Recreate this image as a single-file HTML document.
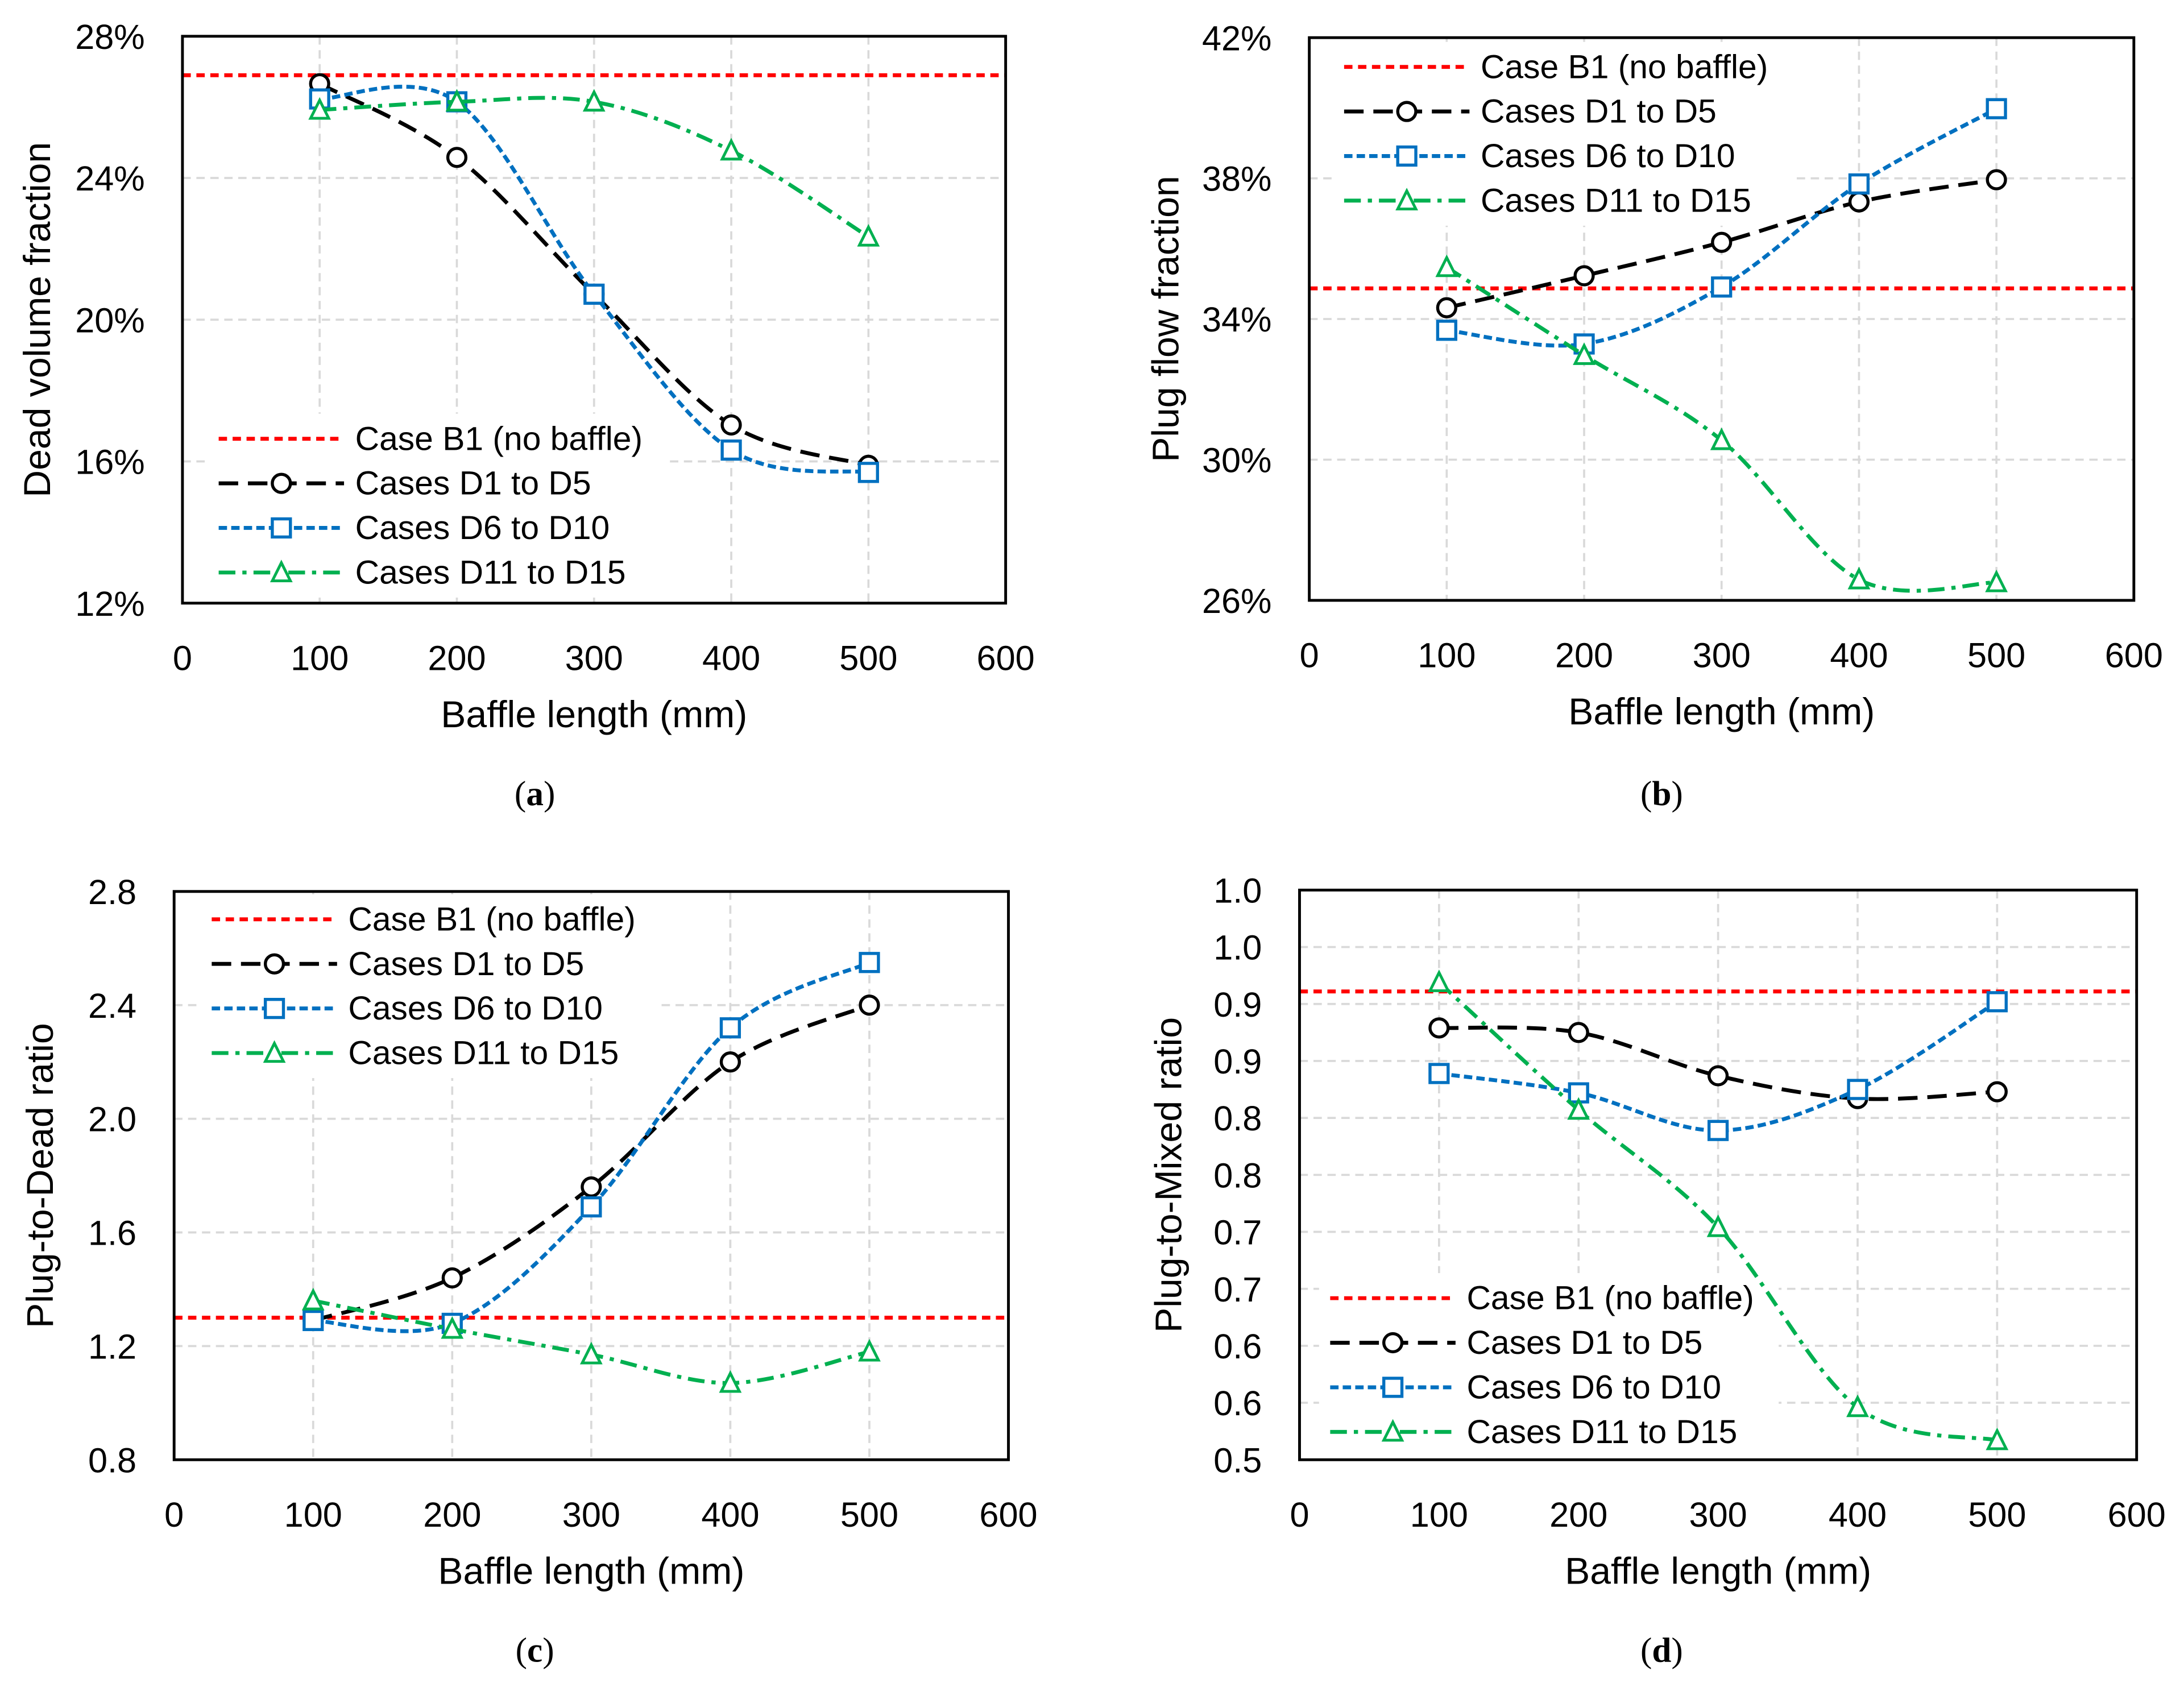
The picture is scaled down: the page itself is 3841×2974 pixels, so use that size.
<!DOCTYPE html>
<html><head><meta charset="utf-8"><style>
html,body{margin:0;padding:0;background:#fff;}
svg{display:block;}
text{font-family:"Liberation Sans",sans-serif;fill:#000;}
.cap{font-family:"Liberation Serif",serif;}
</style></head><body>
<svg id="fig" width="3841" height="2974" viewBox="0 0 1568 1214" xmlns="http://www.w3.org/2000/svg"></svg>
<script>
// ---- data ----
const categories = [100, 200, 300, 400, 500];
const xTicks = [0, 100, 200, 300, 400, 500, 600];
const seriesNames = ["Case B1 (no baffle)", "Cases D1 to D5", "Cases D6 to D10", "Cases D11 to D15"];

const aBaseline = 26.9;
const aD1 = [26.66, 24.58, 20.72, 17.03, 15.89];
const aD6 = [26.23, 26.15, 20.72, 16.32, 15.69];
const aD11 = [25.92, 26.15, 26.15, 24.77, 22.34];
const aYTicks = [12, 16, 20, 24, 28];
const aYLabels = ["12%", "16%", "20%", "24%", "28%"];

const bBaseline = 34.87;
const bD1 = [34.32, 35.23, 36.18, 37.33, 37.96];
const bD6 = [33.68, 33.29, 34.91, 37.84, 39.98];
const bD11 = [35.47, 32.97, 30.55, 26.59, 26.51];
const bYTicks = [26, 30, 34, 38, 42];
const bYLabels = ["26%", "30%", "34%", "38%", "42%"];

const cBaseline = 1.30;
const cD1 = [1.29, 1.44, 1.76, 2.20, 2.40];
const cD6 = [1.29, 1.28, 1.69, 2.32, 2.55];
const cD11 = [1.36, 1.26, 1.17, 1.07, 1.18];
const cYTicks = [0.8, 1.2, 1.6, 2.0, 2.4, 2.8];
const cYLabels = ["0.8", "1.2", "1.6", "2.0", "2.4", "2.8"];

const dBaseline = 0.911;
const dD1 = [0.879, 0.875, 0.837, 0.817, 0.823];
const dD6 = [0.839, 0.822, 0.789, 0.825, 0.902];
const dD11 = [0.919, 0.807, 0.704, 0.546, 0.517];
const dYTicks = [0.5, 0.55, 0.6, 0.65, 0.7, 0.75, 0.8, 0.85, 0.9, 0.95, 1.0];
const dYLabels = ["0.5", "0.6", "0.6", "0.7", "0.7", "0.8", "0.8", "0.9", "0.9", "1.0", "1.0"];

const NS = "http://www.w3.org/2000/svg";
const fig = document.getElementById('fig');
function mk(tag, attrs, parent) {
  const e = document.createElementNS(NS, tag);
  for (const k in attrs) e.setAttribute(k, attrs[k]);
  (parent || fig).appendChild(e);
  return e;
}
const styles = [
  {color: "#ff0000", dash: "6,4", marker: null},
  {color: "#000000", dash: "14,7", marker: "circle"},
  {color: "#0070c0", dash: "6,3", marker: "square"},
  {color: "#00b050", dash: "12,5,3,5", marker: "triangle"}
];
function smoothPath(pts) {
  let d = "M" + pts[0][0] + "," + pts[0][1];
  for (let i = 0; i < pts.length - 1; i++) {
    const p0 = pts[Math.max(0, i - 1)], p1 = pts[i], p2 = pts[i + 1], p3 = pts[Math.min(pts.length - 1, i + 2)];
    const t = 6;
    d += " C" + (p1[0] + (p2[0] - p0[0]) / t) + "," + (p1[1] + (p2[1] - p0[1]) / t) + " " +
      (p2[0] - (p3[0] - p1[0]) / t) + "," + (p2[1] - (p3[1] - p1[1]) / t) + " " + p2[0] + "," + p2[1];
  }
  return d;
}
function marker(g, type, x, y, color) {
  let m;
  if (type === "circle") m = mk('circle', {cx: x, cy: y, r: 6.5, fill: "#fff", stroke: color, "stroke-width": 2.2}, g);
  else if (type === "square") m = mk('rect', {x: x - 6.5, y: y - 6.5, width: 13, height: 13, fill: "#fff", stroke: color, "stroke-width": 2.2}, g);
  else m = mk('polygon', {points: (x) + "," + (y - 7) + " " + (x - 6.5) + "," + (y + 6) + " " + (x + 6.5) + "," + (y + 6), fill: "#fff", stroke: color, "stroke-width": 2}, g);
  
  
  return m;
}

function chart(cfg) {
  const g = mk('g', {});
  
  
  const yMin = cfg.yTicks[0], yMax = cfg.yTicks[cfg.yTicks.length - 1];
  const X = v => cfg.L + (v - 0) / 600 * (cfg.R - cfg.L);
  const Y = v => cfg.B - (v - yMin) / (yMax - yMin) * (cfg.B - cfg.T);
  const grid = mk('g', {stroke: "#d9d9d9", "stroke-width": 1.5, "stroke-dasharray": "6,4"}, g);
  
  
  xTicks.slice(1, -1).forEach(v => mk('line', {x1: X(v), x2: X(v), y1: cfg.T, y2: cfg.B}, grid));
  cfg.yTicks.slice(1, -1).forEach(v => mk('line', {x1: cfg.L, x2: cfg.R, y1: Y(v), y2: Y(v)}, grid));
  const lg = mk('rect', {x: cfg.legX - 8, y: cfg.legY - 18, width: cfg.legW, height: 4 * 32 + 4, fill: "#fff"}, g);
  
  
  const data = [null, cfg.d1, cfg.d6, cfg.d11];
  const bl = mk('line', {x1: cfg.L, x2: cfg.R, y1: Y(cfg.base), y2: Y(cfg.base), stroke: styles[0].color, "stroke-width": 2.8, "stroke-dasharray": styles[0].dash}, g);
  
  
  for (let s = 1; s < 4; s++) {
    const pts = categories.map((c, i) => [X(c), Y(data[s][i])]);
    const p = mk('path', {d: smoothPath(pts), fill: "none", stroke: styles[s].color, "stroke-width": 2.8, "stroke-dasharray": styles[s].dash}, g);
    
    
    pts.forEach(pt => marker(g, styles[s].marker, pt[0], pt[1], styles[s].color));
  }
  const fr = mk('rect', {x: cfg.L, y: cfg.T, width: cfg.R - cfg.L, height: cfg.B - cfg.T, fill: "none", stroke: "#000", "stroke-width": 2}, g);
  
  
  xTicks.forEach(v => {
    const t = mk('text', {x: X(v), y: cfg.B + 48, "text-anchor": "middle", "font-size": 25}, g);
    t.textContent = v;
    
    
  });
  cfg.yTicks.forEach((v, i) => {
    const t = mk('text', {x: cfg.L - 27, y: Y(v) + 9, "text-anchor": "end", "font-size": 25}, g);
    t.textContent = cfg.yLabels[i];
    
    
  });
  const xt = mk('text', {x: (cfg.L + cfg.R) / 2, y: cfg.B + 89, "text-anchor": "middle", "font-size": 27}, g);
  xt.textContent = "Baffle length (mm)";
  
  
  const yc = (cfg.T + cfg.B) / 2;
  const yt = mk('text', {x: cfg.yTitleX, y: yc, "text-anchor": "middle", "font-size": 27, transform: "rotate(-90 " + cfg.yTitleX + " " + yc + ")"}, g);
  yt.textContent = cfg.yTitle;
  
  
  for (let s = 0; s < 4; s++) {
    const ly = cfg.legY + s * 32;
    const e = mk('g', {}, g);
    
    
    mk('line', {x1: cfg.legX, x2: cfg.legX + 90, y1: ly, y2: ly, stroke: styles[s].color, "stroke-width": 2.8, "stroke-dasharray": styles[s].dash}, e);
    if (styles[s].marker) marker(e, styles[s].marker, cfg.legX + 45, ly, styles[s].color);
    const t = mk('text', {x: cfg.legX + 98, y: ly + 8, "font-size": 24}, e);
    t.textContent = seriesNames[s];
  }
  const cp = mk('text', {x: cfg.capX, y: cfg.capY, "text-anchor": "middle", "font-size": 25, class: "cap"}, g);
  cp.innerHTML = '(<tspan font-weight="bold">' + cfg.cap + '</tspan>)';
  
  
}

chart({name: "chart-a-dead-volume", L: 131, R: 722, T: 26, B: 433, yTicks: aYTicks, yLabels: aYLabels, base: aBaseline, d1: aD1, d6: aD6, d11: aD11,
  yTitle: "Dead volume fraction", yTitleX: 36, legX: 157, legY: 315, legW: 330, cap: "a", capX: 384, capY: 578});
chart({name: "chart-b-plug-flow", L: 940, R: 1532, T: 27, B: 431, yTicks: bYTicks, yLabels: bYLabels, base: bBaseline, d1: bD1, d6: bD6, d11: bD11,
  yTitle: "Plug flow fraction", yTitleX: 846, legX: 965, legY: 48, legW: 330, cap: "b", capX: 1193, capY: 578});
chart({name: "chart-c-plug-to-dead", L: 125, R: 724, T: 640, B: 1048, yTicks: cYTicks, yLabels: cYLabels, base: cBaseline, d1: cD1, d6: cD6, d11: cD11,
  yTitle: "Plug-to-Dead ratio", yTitleX: 38, legX: 152, legY: 660, legW: 330, cap: "c", capX: 384, capY: 1193});
chart({name: "chart-d-plug-to-mixed", L: 933, R: 1534, T: 639, B: 1048, yTicks: dYTicks, yLabels: dYLabels, base: dBaseline, d1: dD1, d6: dD6, d11: dD11,
  yTitle: "Plug-to-Mixed ratio", yTitleX: 848, legX: 955, legY: 932, legW: 330, cap: "d", capX: 1193, capY: 1193});
</script>
</body></html>
